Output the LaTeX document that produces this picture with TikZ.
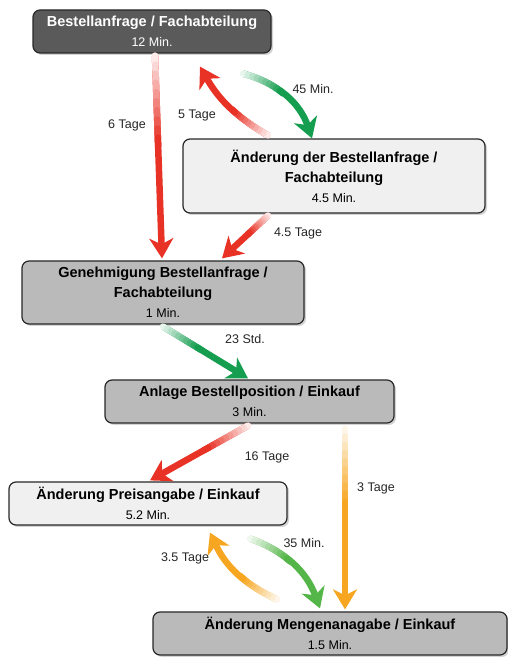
\documentclass[tikz,border=0pt]{standalone}
\usepackage{fontspec}
\setmainfont{Liberation Sans}
\usetikzlibrary{arrows.meta}
\usetikzlibrary{shadows}

\definecolor{flowred}{RGB}{232,50,38}
\definecolor{flowgreen}{RGB}{22,158,80}
\definecolor{flowlime}{RGB}{84,182,72}
\definecolor{floworange}{RGB}{246,166,32}
\definecolor{boxdark}{RGB}{90,90,90}
\definecolor{boxmid}{RGB}{186,186,186}
\definecolor{boxlight}{RGB}{240,240,240}
\definecolor{boxline}{RGB}{40,40,40}

\tikzset{
	box/.style={rectangle, rounded corners=7pt, draw=boxline, line width=1.2pt, align=center, inner sep=2pt,
		font=\fontsize{14.5}{20}\selectfont\bfseries,
		drop shadow={shadow xshift=2pt, shadow yshift=-2pt, opacity=.35}},
	darkbox/.style={box, fill=boxdark, text=white},
	midbox/.style={box, fill=boxmid},
	lightbox/.style={box, fill=boxlight},
	lbl/.style={font=\fontsize{12.5}{14}\selectfont, text=black!85},
	flow/.style={line width=6.5pt, -{Stealth[length=20pt,width=24pt,inset=6pt]}},
	fadeseg/.style={line width=6.5pt, line cap=round}
}

\newcommand{\minline}{\fontsize{12.5}{20}\selectfont\mdseries}
% arrow whose tail fades out to white
\newcommand{\flowarrow}[4][]{%
	\draw[flow, #1, draw=#2] (#3) to (#4);
	\foreach \k [evaluate=\k as \tpos using \k*0.045] in {0,...,10}
		\path (#3) to[#1] coordinate[pos=\tpos] (t\k) (#4);
	\foreach \k [evaluate=\k as \nxt using int(\k+1), evaluate=\k as \tint using int(10+\k*10)] in {0,...,9}
		\draw[fadeseg, #1, draw=#2!\tint!white] (t\k) -- (t\nxt);
}

\begin{document}
\begin{tikzpicture}[x=1pt,y=1pt]
	\useasboundingbox (0,0) rectangle (508,658);

	%Process steps
	\node[darkbox, minimum width=238pt, minimum height=43pt] (anfrage) at (152,626.5)
	{Bestellanfrage / Fachabteilung\\\minline 12 Min.};
	\node[lightbox, minimum width=302pt, minimum height=74pt] (aenderung) at (334,482)
	{Änderung der Bestellanfrage /\\Fachabteilung\\\minline 4.5 Min.};
	\node[midbox, minimum width=282pt, minimum height=63pt] (genehm) at (163,365.5)
	{Genehmigung Bestellanfrage /\\Fachabteilung\\\minline 1 Min.};
	\node[midbox, minimum width=289pt, minimum height=43pt] (anlage) at (249.5,256.5)
	{Anlage Bestellposition / Einkauf\\\minline 3 Min.};
	\node[lightbox, minimum width=278pt, minimum height=43pt] (preis) at (148,154.5)
	{Änderung Preisangabe / Einkauf\\\minline 5.2 Min.};
	\node[midbox, minimum width=354pt, minimum height=43pt] (menge) at (330,24.5)
	{Änderung Mengenanagabe / Einkauf\\\minline 1.5 Min.};

	%Transitions
	\flowarrow{flowred}{[xshift=3pt,yshift=-2pt]anfrage.south}{[xshift=-1pt,yshift=2pt]genehm.north}
	\flowarrow[bend left=15]{flowred}{[xshift=-66pt,yshift=3pt]aenderung.north}{[xshift=48pt,yshift=-13pt]anfrage.south}
	\flowarrow[bend left=28]{flowgreen}{[xshift=91pt,yshift=-20pt]anfrage.south}{[xshift=-22pt]aenderung.north}
	\flowarrow{flowred}{[xshift=-66pt,yshift=-2pt]aenderung.south}{[xshift=59pt,yshift=2pt]genehm.north}
	\flowarrow{flowgreen}{[yshift=-2pt]genehm.south}{[xshift=-1.5pt,yshift=1pt]anlage.north}
	\flowarrow{flowred}{[xshift=-1.5pt,yshift=-2pt]anlage.south}{[xshift=2pt,yshift=1pt]preis.north}
	\flowarrow{floworange}{[xshift=95.5pt,yshift=-5pt]anlage.south}{[xshift=15pt,yshift=2pt]menge.north}
	\flowarrow[bend left=20]{floworange}{[xshift=-53pt,yshift=12pt]menge.north}{[xshift=62pt,yshift=-7pt]preis.south}
	\flowarrow[bend left=25]{flowlime}{[xshift=102pt,yshift=-13pt]preis.south}{[xshift=-10pt,yshift=3pt]menge.north}

	%Durations
	\node[lbl] (d6) at (127,533) {6 Tage};
	\node[lbl] (d5) at (197,542) {5 Tage};
	\node[lbl] (d45) at (313,569) {45 Min.};
	\node[lbl] (d4) at (298,424) {4.5 Tage};
	\node[lbl] (d23) at (245,319) {23 Std.};
	\node[lbl] (d16) at (267,201) {16 Tage};
	\node[lbl] (d3) at (376,170) {3 Tage};
	\node[lbl] (d35) at (185,100) {3.5 Tage};
	\node[lbl] (d35m) at (304,115) {35 Min.};
\end{tikzpicture}
\end{document}
